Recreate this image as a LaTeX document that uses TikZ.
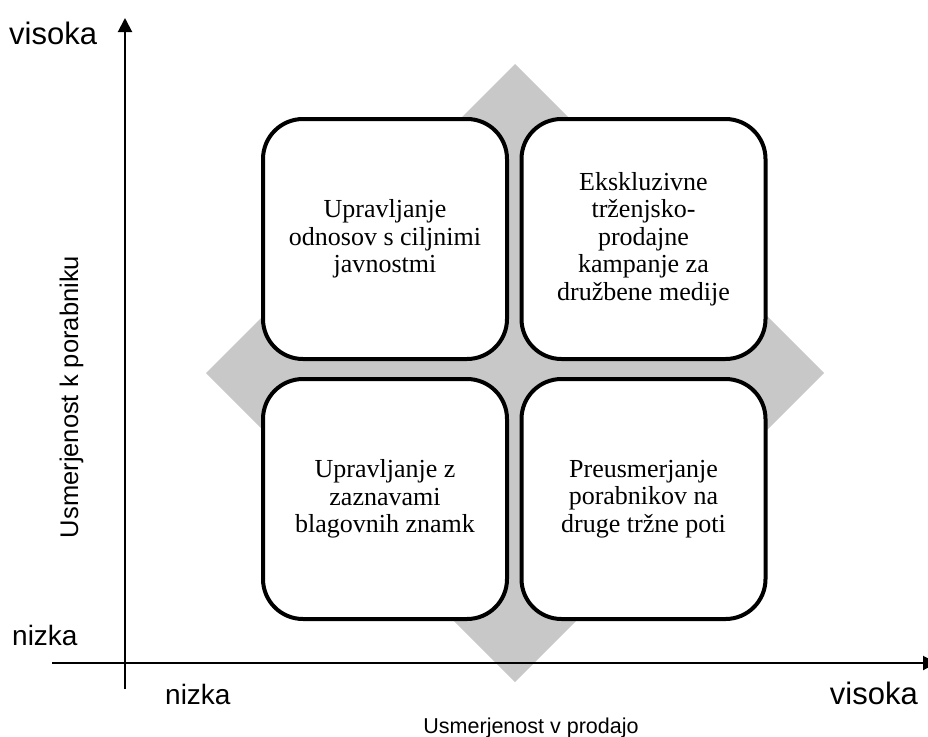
\documentclass[tikz,border=0pt]{standalone}
\usepackage{fontspec}
\setmainfont{Liberation Serif}
\newfontfamily\axisfont{Liberation Sans}
\usetikzlibrary{arrows.meta}
\definecolor{diamondgray}{RGB}{200,200,200}
\tikzset{
  quad/.style={draw=black, line width=4pt, fill=white, rounded corners=40pt,
    minimum width=244pt, minimum height=240pt, align=center, inner sep=0pt,
    font=\fontsize{26}{27.5}\selectfont},
  axis/.style={line width=2pt, draw=black},
  axistip/.style={-{Triangle[length=14pt,width=14pt]}},
  highlabel/.style={font=\axisfont\fontsize{31}{34}\selectfont, inner sep=0pt},
  lowlabel/.style={font=\axisfont\fontsize{28}{31}\selectfont, inner sep=0pt},
  titlelabel/.style={font=\axisfont\fontsize{21.5}{24}\selectfont, inner sep=0pt},
  sidetitle/.style={font=\axisfont\fontsize{25.5}{28}\selectfont, inner sep=0pt}
}
\begin{document}
\begin{tikzpicture}[x=1pt, y=-1pt]
  \useasboundingbox (0,0) rectangle (928,736);
  \clip (0,0) rectangle (928,736);

  % grey diamond behind the four quadrants
  \coordinate (dtop) at (515,64);
  \coordinate (dright) at (824,373);
  \coordinate (dbottom) at (515,682);
  \coordinate (dleft) at (206,373);
  \fill[diamondgray] (dtop) -- (dright) -- (dbottom) -- (dleft) -- cycle;

  % axes
  \coordinate (ybottom) at (125,689);
  \coordinate (ytop) at (125,18);
  \coordinate (xleft) at (52,663);
  \coordinate (xright) at (937,663);
  \draw[axis, axistip] (ybottom) -- (ytop);
  \draw[axis, axistip] (xleft) -- (xright);

  % quadrants
  \node[quad] (ul) at (385,239) {Upravljanje\\odnosov s ciljnimi\\javnostmi};
  \node[quad] (ur) at (643.5,239) {Ekskluzivne\\trženjsko-\\prodajne\\kampanje za\\družbene medije};
  \node[quad] (ll) at (385,499) {Upravljanje z\\zaznavami\\blagovnih znamk};
  \node[quad] (lr) at (643.5,499) {Preusmerjanje\\porabnikov na\\druge tržne poti};

  % axis scale labels
  \node[highlabel, anchor=base west] (yhigh) at (9,44) {visoka};
  \node[lowlabel, anchor=base west] (ylow) at (12,645) {nizka};
  \node[lowlabel, anchor=base west] (xlow) at (165,704) {nizka};
  \node[highlabel, anchor=base east] (xhigh) at (918,704) {visoka};

  % axis titles
  \node[titlelabel, anchor=base] (xtitle) at (531,733) {Usmerjenost v prodajo};
  \node[sidetitle, rotate=90, anchor=base] (ytitle) at (78,397) {Usmerjenost k porabniku};
\end{tikzpicture}
\end{document}
